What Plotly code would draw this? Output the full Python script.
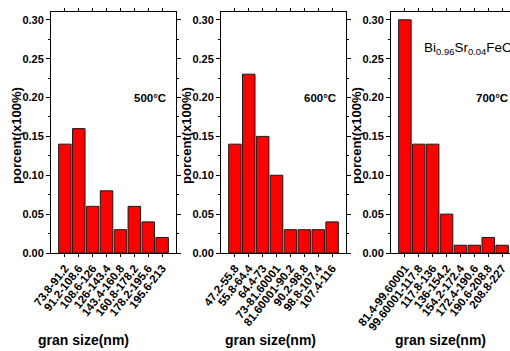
import plotly.graph_objects as go

cats_500 = ["73.8-91.2", "91.2-108.6", "108.6-126", "126-143.4", "143.4-160.8", "160.8-178.2", "178.2-195.6", "195.6-213"]
vals_500 = [0.14, 0.16, 0.06, 0.08, 0.03, 0.06, 0.04, 0.02]

cats_600 = ["47.2-55.8", "55.8-64.4", "64.4-73", "73-81.60001", "81.60001-90.2", "90.2-98.8", "98.8-107.4", "107.4-116"]
vals_600 = [0.14, 0.23, 0.15, 0.10, 0.03, 0.03, 0.03, 0.04]

cats_700 = ["81.4-99.60001", "99.60001-117.8", "117.8-136", "136-154.2", "154.2-172.4", "172.4-190.6", "190.6-208.8", "208.8-227"]
vals_700 = [0.30, 0.14, 0.14, 0.05, 0.01, 0.01, 0.02, 0.01]

y_ticks = [0.00, 0.05, 0.10, 0.15, 0.20, 0.25, 0.30]
temps = ["500°C", "600°C", "700°C"]
y_title = "porcent(x100%)"
x_title = "gran size(nm)"
formula = "Bi<sub>0.96</sub>Sr<sub>0.04</sub>FeO<sub>3</sub>"

FONT = "Liberation Sans, Arial"
W, H = 510, 351
L, T, B = 51, 12, 98
PW = W - L  # 459
PH = H - T - B  # 241

panels = [(cats_500, vals_500), (cats_600, vals_600), (cats_700, vals_700)]
starts = [51, 221, 391]
pw = 125

fig = go.Figure()
layout = dict(
    width=W, height=H,
    margin=dict(l=L, r=0, t=T, b=B, pad=0),
    paper_bgcolor="white", plot_bgcolor="white",
    showlegend=False, bargap=0.1,
    font=dict(family=FONT, color="black"),
)
annotations = []
for i, (cats, vals) in enumerate(panels):
    n = "" if i == 0 else str(i + 1)
    x0 = starts[i]
    x1 = min(x0 + pw, W)
    fig.add_trace(go.Bar(
        x=list(range(len(cats))), y=vals,
        xaxis="x" + n, yaxis="y" + n,
        marker=dict(color="#ff0000", line=dict(color="#1a1a1a", width=1)),
    ))
    xr_right = -1 + 9 * (x1 - x0) / pw
    layout["xaxis" + n] = dict(
        domain=[(x0 - L) / PW, (x1 - L) / PW],
        anchor="y" + n,
        range=[-1, xr_right],
        tickmode="array", tickvals=list(range(len(cats))), ticktext=cats,
        tickangle=-52,
        tickfont=dict(family=FONT, size=11.5, color="black", weight="bold"),
        showline=True, linecolor="black", linewidth=1,
        ticks="outside", ticklen=3, tickwidth=1, tickcolor="black",
        mirror="ticks", showgrid=False, zeroline=False,
    )
    layout["yaxis" + n] = dict(
        domain=[0, 1],
        anchor="x" + n,
        range=[0, 0.31],
        tickmode="array", tickvals=y_ticks, ticktext=["%.2f" % v for v in y_ticks],
        tickfont=dict(family=FONT, size=11, color="black", weight="bold"),
        showline=True, linecolor="black", linewidth=1,
        ticks="outside", ticklen=4, tickwidth=1, tickcolor="black",
        minor=dict(tickmode="array", tickvals=[0.025, 0.075, 0.125, 0.175, 0.225, 0.275],
                   ticks="outside", ticklen=2, tickcolor="black"),
        mirror="ticks" if i < 2 else False,
        showgrid=False, zeroline=False,
    )
    # y title
    annotations.append(dict(
        text=y_title, textangle=-90, xref="paper", yref="paper",
        x=(x0 - 35 - L) / PW, y=(253 - 136) / PH,
        xanchor="center", yanchor="middle", showarrow=False,
        font=dict(family=FONT, size=13, color="black", weight="bold"),
    ))
    # x title
    xc = [83, 270, 440][i]
    annotations.append(dict(
        text=x_title, xref="paper", yref="paper",
        x=(xc - L) / PW, y=(253 - 340) / PH,
        xanchor="center", yanchor="middle", showarrow=False,
        font=dict(family=FONT, size=14, color="black", weight="bold"),
    ))
    # temperature
    tx_right = [168, 338, 510][i]
    annotations.append(dict(
        text=temps[i], xref="paper", yref="paper",
        x=(tx_right - L) / PW, y=(253 - 98) / PH,
        xanchor="right", yanchor="middle", showarrow=False,
        font=dict(family=FONT, size=11.5, color="black", weight="bold"),
    ))

annotations.append(dict(
    text=formula, xref="paper", yref="paper",
    x=(422 - L) / PW, y=(253 - 48) / PH,
    xanchor="left", yanchor="middle", showarrow=False,
    font=dict(family=FONT, size=13.5, color="black"),
))
layout["annotations"] = annotations
fig.update_layout(**layout)
fig.write_html("out.html")
